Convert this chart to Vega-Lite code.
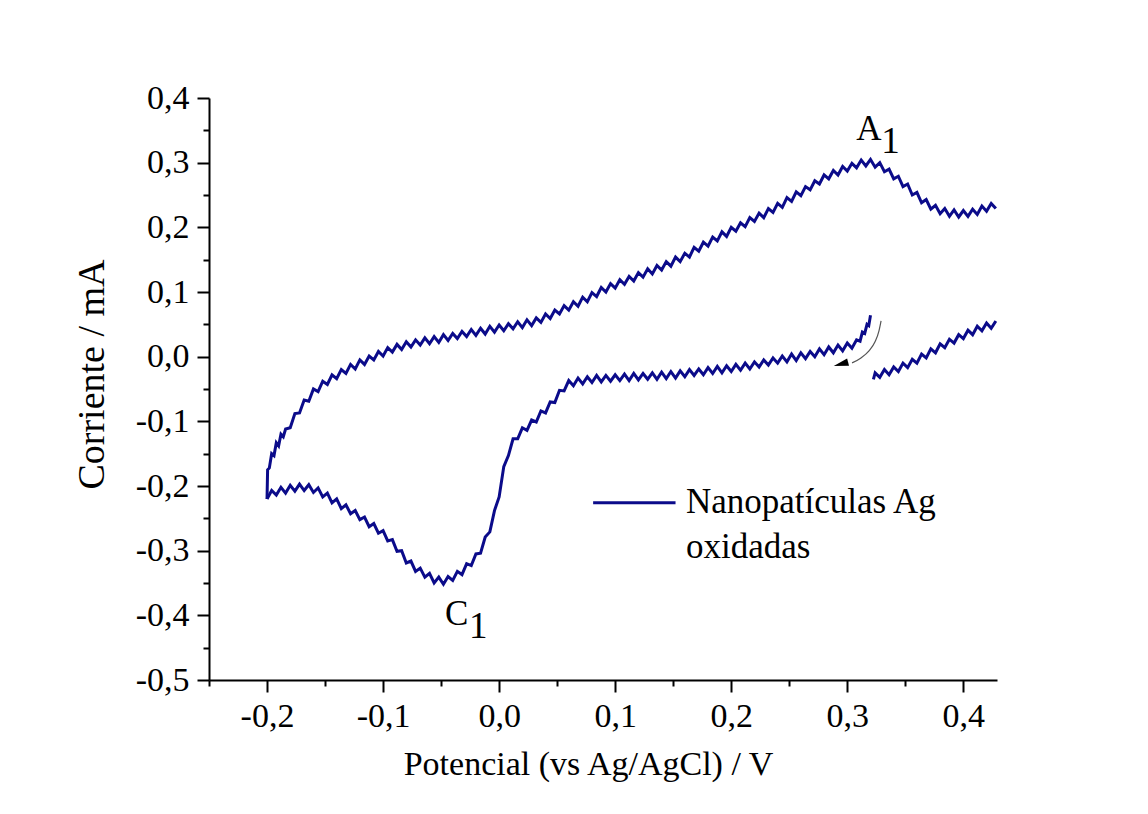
{
  "$schema": "https://vega.github.io/schema/vega-lite/v6.json",
  "width": 788,
  "height": 582,
  "autosize": {"type": "none"},
  "padding": {"left": 209, "top": 98, "right": 151, "bottom": 134},
  "background": "white",
  "config": {"view": {"stroke": null}, "font": "Liberation Serif"},
  "datasets": {
    "cv": [
      {"b":1,"x":0.32,"y":0.064},{"b":1,"x":0.3185,"y":0.048},{"b":1,"x":0.317,"y":0.05},{"b":1,"x":0.315,"y":0.036},{"b":1,"x":0.313,"y":0.038},{"b":1,"x":0.311,"y":0.024},
      {"b":1,"x":0.308,"y":0.026},{"b":1,"x":0.304,"y":0.013},{"b":1,"x":0.3,"y":0.021},{"b":1,"x":0.296,"y":0.009},{"b":1,"x":0.292,"y":0.018},{"b":1,"x":0.288,"y":0.006},
      {"b":1,"x":0.284,"y":0.015},{"b":1,"x":0.28,"y":0.003},{"b":1,"x":0.276,"y":0.012},{"b":1,"x":0.272,"y":0.0},{"b":1,"x":0.268,"y":0.008},{"b":1,"x":0.264,"y":-0.003},
      {"b":1,"x":0.26,"y":0.006},{"b":1,"x":0.256,"y":-0.006},{"b":1,"x":0.252,"y":0.004},{"b":1,"x":0.248,"y":-0.008},{"b":1,"x":0.244,"y":0.001},{"b":1,"x":0.24,"y":-0.01},
      {"b":1,"x":0.236,"y":-0.002},{"b":1,"x":0.232,"y":-0.013},{"b":1,"x":0.228,"y":-0.005},{"b":1,"x":0.224,"y":-0.016},{"b":1,"x":0.22,"y":-0.008},{"b":1,"x":0.216,"y":-0.019},
      {"b":1,"x":0.212,"y":-0.01},{"b":1,"x":0.208,"y":-0.021},{"b":1,"x":0.204,"y":-0.012},{"b":1,"x":0.2,"y":-0.023},{"b":1,"x":0.196,"y":-0.014},{"b":1,"x":0.192,"y":-0.025},
      {"b":1,"x":0.188,"y":-0.015},{"b":1,"x":0.184,"y":-0.026},{"b":1,"x":0.18,"y":-0.017},{"b":1,"x":0.176,"y":-0.028},{"b":1,"x":0.172,"y":-0.019},{"b":1,"x":0.168,"y":-0.029},
      {"b":1,"x":0.164,"y":-0.02},{"b":1,"x":0.16,"y":-0.031},{"b":1,"x":0.156,"y":-0.022},{"b":1,"x":0.152,"y":-0.033},{"b":1,"x":0.148,"y":-0.023},{"b":1,"x":0.144,"y":-0.034},
      {"b":1,"x":0.14,"y":-0.024},{"b":1,"x":0.136,"y":-0.035},{"b":1,"x":0.132,"y":-0.025},{"b":1,"x":0.128,"y":-0.035},{"b":1,"x":0.124,"y":-0.026},{"b":1,"x":0.12,"y":-0.036},
      {"b":1,"x":0.116,"y":-0.026},{"b":1,"x":0.112,"y":-0.037},{"b":1,"x":0.108,"y":-0.027},{"b":1,"x":0.104,"y":-0.037},{"b":1,"x":0.1,"y":-0.028},{"b":1,"x":0.096,"y":-0.038},
      {"b":1,"x":0.092,"y":-0.029},{"b":1,"x":0.088,"y":-0.039},{"b":1,"x":0.084,"y":-0.029},{"b":1,"x":0.08,"y":-0.04},{"b":1,"x":0.076,"y":-0.031},{"b":1,"x":0.072,"y":-0.042},
      {"b":1,"x":0.068,"y":-0.033},{"b":1,"x":0.064,"y":-0.045},{"b":1,"x":0.06,"y":-0.037},{"b":1,"x":0.056,"y":-0.053},{"b":1,"x":0.052,"y":-0.052},{"b":1,"x":0.048,"y":-0.071},
      {"b":1,"x":0.044,"y":-0.07},{"b":1,"x":0.04,"y":-0.087},{"b":1,"x":0.036,"y":-0.084},{"b":1,"x":0.032,"y":-0.101},{"b":1,"x":0.028,"y":-0.098},{"b":1,"x":0.024,"y":-0.114},
      {"b":1,"x":0.02,"y":-0.11},{"b":1,"x":0.016,"y":-0.127},{"b":1,"x":0.012,"y":-0.127},{"b":1,"x":0.008,"y":-0.153},{"b":1,"x":0.004,"y":-0.17},{"b":1,"x":0.0,"y":-0.217},
      {"b":1,"x":-0.004,"y":-0.238},{"b":1,"x":-0.008,"y":-0.271},{"b":1,"x":-0.012,"y":-0.279},{"b":1,"x":-0.016,"y":-0.304},{"b":1,"x":-0.02,"y":-0.305},{"b":1,"x":-0.024,"y":-0.323},
      {"b":1,"x":-0.028,"y":-0.32},{"b":1,"x":-0.032,"y":-0.337},{"b":1,"x":-0.036,"y":-0.332},{"b":1,"x":-0.04,"y":-0.346},{"b":1,"x":-0.044,"y":-0.34},{"b":1,"x":-0.048,"y":-0.352},
      {"b":1,"x":-0.052,"y":-0.341},{"b":1,"x":-0.056,"y":-0.35},{"b":1,"x":-0.06,"y":-0.335},{"b":1,"x":-0.064,"y":-0.341},{"b":1,"x":-0.068,"y":-0.327},{"b":1,"x":-0.072,"y":-0.332},
      {"b":1,"x":-0.076,"y":-0.316},{"b":1,"x":-0.08,"y":-0.319},{"b":1,"x":-0.084,"y":-0.3},{"b":1,"x":-0.088,"y":-0.301},{"b":1,"x":-0.092,"y":-0.283},{"b":1,"x":-0.096,"y":-0.285},
      {"b":1,"x":-0.1,"y":-0.269},{"b":1,"x":-0.104,"y":-0.273},{"b":1,"x":-0.108,"y":-0.258},{"b":1,"x":-0.112,"y":-0.263},{"b":1,"x":-0.116,"y":-0.248},{"b":1,"x":-0.12,"y":-0.252},
      {"b":1,"x":-0.124,"y":-0.238},{"b":1,"x":-0.128,"y":-0.243},{"b":1,"x":-0.132,"y":-0.229},{"b":1,"x":-0.136,"y":-0.235},{"b":1,"x":-0.14,"y":-0.22},{"b":1,"x":-0.144,"y":-0.226},
      {"b":1,"x":-0.148,"y":-0.211},{"b":1,"x":-0.152,"y":-0.217},{"b":1,"x":-0.156,"y":-0.203},{"b":1,"x":-0.16,"y":-0.21},{"b":1,"x":-0.164,"y":-0.198},{"b":1,"x":-0.168,"y":-0.207},
      {"b":1,"x":-0.172,"y":-0.197},{"b":1,"x":-0.176,"y":-0.208},{"b":1,"x":-0.18,"y":-0.199},{"b":1,"x":-0.184,"y":-0.211},{"b":1,"x":-0.188,"y":-0.202},{"b":1,"x":-0.192,"y":-0.214},
      {"b":1,"x":-0.196,"y":-0.207},{"b":1,"x":-0.2,"y":-0.22},
      {"b":2,"x":-0.2,"y":-0.22},{"b":2,"x":-0.1995,"y":-0.175},{"b":2,"x":-0.198,"y":-0.172},{"b":2,"x":-0.196,"y":-0.15},{"b":2,"x":-0.194,"y":-0.153},{"b":2,"x":-0.192,"y":-0.133},
      {"b":2,"x":-0.19,"y":-0.138},{"b":2,"x":-0.188,"y":-0.12},{"b":2,"x":-0.186,"y":-0.124},
      {"b":2,"x":-0.184,"y":-0.112},{"b":2,"x":-0.18,"y":-0.11},{"b":2,"x":-0.176,"y":-0.088},{"b":2,"x":-0.172,"y":-0.087},{"b":2,"x":-0.168,"y":-0.067},{"b":2,"x":-0.164,"y":-0.069},
      {"b":2,"x":-0.16,"y":-0.05},{"b":2,"x":-0.156,"y":-0.054},{"b":2,"x":-0.152,"y":-0.038},{"b":2,"x":-0.148,"y":-0.043},{"b":2,"x":-0.144,"y":-0.028},{"b":2,"x":-0.14,"y":-0.034},
      {"b":2,"x":-0.136,"y":-0.02},{"b":2,"x":-0.132,"y":-0.026},{"b":2,"x":-0.128,"y":-0.012},{"b":2,"x":-0.124,"y":-0.019},{"b":2,"x":-0.12,"y":-0.005},{"b":2,"x":-0.116,"y":-0.012},
      {"b":2,"x":-0.112,"y":0.001},{"b":2,"x":-0.108,"y":-0.005},{"b":2,"x":-0.104,"y":0.008},{"b":2,"x":-0.1,"y":0.001},{"b":2,"x":-0.096,"y":0.014},{"b":2,"x":-0.092,"y":0.007},
      {"b":2,"x":-0.088,"y":0.019},{"b":2,"x":-0.084,"y":0.011},{"b":2,"x":-0.08,"y":0.023},{"b":2,"x":-0.076,"y":0.015},{"b":2,"x":-0.072,"y":0.026},{"b":2,"x":-0.068,"y":0.018},
      {"b":2,"x":-0.064,"y":0.029},{"b":2,"x":-0.06,"y":0.02},{"b":2,"x":-0.056,"y":0.031},{"b":2,"x":-0.052,"y":0.022},{"b":2,"x":-0.048,"y":0.034},{"b":2,"x":-0.044,"y":0.025},
      {"b":2,"x":-0.04,"y":0.036},{"b":2,"x":-0.036,"y":0.028},{"b":2,"x":-0.032,"y":0.039},{"b":2,"x":-0.028,"y":0.031},{"b":2,"x":-0.024,"y":0.042},{"b":2,"x":-0.02,"y":0.033},
      {"b":2,"x":-0.016,"y":0.044},{"b":2,"x":-0.012,"y":0.035},{"b":2,"x":-0.008,"y":0.047},{"b":2,"x":-0.004,"y":0.038},{"b":2,"x":0.0,"y":0.049},{"b":2,"x":0.004,"y":0.04},
      {"b":2,"x":0.008,"y":0.051},{"b":2,"x":0.012,"y":0.043},{"b":2,"x":0.016,"y":0.054},{"b":2,"x":0.02,"y":0.045},{"b":2,"x":0.024,"y":0.057},{"b":2,"x":0.028,"y":0.048},
      {"b":2,"x":0.032,"y":0.06},{"b":2,"x":0.036,"y":0.053},{"b":2,"x":0.04,"y":0.066},{"b":2,"x":0.044,"y":0.059},{"b":2,"x":0.048,"y":0.072},{"b":2,"x":0.052,"y":0.066},
      {"b":2,"x":0.056,"y":0.079},{"b":2,"x":0.06,"y":0.072},{"b":2,"x":0.064,"y":0.085},{"b":2,"x":0.068,"y":0.078},{"b":2,"x":0.072,"y":0.092},{"b":2,"x":0.076,"y":0.085},
      {"b":2,"x":0.08,"y":0.099},{"b":2,"x":0.084,"y":0.093},{"b":2,"x":0.088,"y":0.107},{"b":2,"x":0.092,"y":0.1},{"b":2,"x":0.096,"y":0.113},{"b":2,"x":0.1,"y":0.106},
      {"b":2,"x":0.104,"y":0.119},{"b":2,"x":0.108,"y":0.112},{"b":2,"x":0.112,"y":0.124},{"b":2,"x":0.116,"y":0.117},{"b":2,"x":0.12,"y":0.13},{"b":2,"x":0.124,"y":0.123},
      {"b":2,"x":0.128,"y":0.136},{"b":2,"x":0.132,"y":0.128},{"b":2,"x":0.136,"y":0.141},{"b":2,"x":0.14,"y":0.134},{"b":2,"x":0.144,"y":0.147},{"b":2,"x":0.148,"y":0.14},
      {"b":2,"x":0.152,"y":0.154},{"b":2,"x":0.156,"y":0.147},{"b":2,"x":0.16,"y":0.16},{"b":2,"x":0.164,"y":0.154},{"b":2,"x":0.168,"y":0.169},{"b":2,"x":0.172,"y":0.163},
      {"b":2,"x":0.176,"y":0.177},{"b":2,"x":0.18,"y":0.171},{"b":2,"x":0.184,"y":0.185},{"b":2,"x":0.188,"y":0.179},{"b":2,"x":0.192,"y":0.193},{"b":2,"x":0.196,"y":0.186},
      {"b":2,"x":0.2,"y":0.2},{"b":2,"x":0.204,"y":0.194},{"b":2,"x":0.208,"y":0.207},{"b":2,"x":0.212,"y":0.201},{"b":2,"x":0.216,"y":0.215},{"b":2,"x":0.22,"y":0.209},
      {"b":2,"x":0.224,"y":0.222},{"b":2,"x":0.228,"y":0.215},{"b":2,"x":0.232,"y":0.229},{"b":2,"x":0.236,"y":0.223},{"b":2,"x":0.24,"y":0.237},{"b":2,"x":0.244,"y":0.231},
      {"b":2,"x":0.248,"y":0.246},{"b":2,"x":0.252,"y":0.24},{"b":2,"x":0.256,"y":0.255},{"b":2,"x":0.26,"y":0.249},{"b":2,"x":0.264,"y":0.263},{"b":2,"x":0.268,"y":0.258},
      {"b":2,"x":0.272,"y":0.272},{"b":2,"x":0.276,"y":0.267},{"b":2,"x":0.28,"y":0.281},{"b":2,"x":0.284,"y":0.275},{"b":2,"x":0.288,"y":0.288},{"b":2,"x":0.292,"y":0.281},
      {"b":2,"x":0.296,"y":0.294},{"b":2,"x":0.3,"y":0.287},{"b":2,"x":0.304,"y":0.299},{"b":2,"x":0.308,"y":0.292},{"b":2,"x":0.312,"y":0.304},{"b":2,"x":0.316,"y":0.295},
      {"b":2,"x":0.32,"y":0.305},{"b":2,"x":0.324,"y":0.293},{"b":2,"x":0.328,"y":0.3},{"b":2,"x":0.332,"y":0.286},{"b":2,"x":0.336,"y":0.29},{"b":2,"x":0.34,"y":0.275},
      {"b":2,"x":0.344,"y":0.279},{"b":2,"x":0.348,"y":0.263},{"b":2,"x":0.352,"y":0.267},{"b":2,"x":0.356,"y":0.25},{"b":2,"x":0.36,"y":0.254},{"b":2,"x":0.364,"y":0.238},
      {"b":2,"x":0.368,"y":0.243},{"b":2,"x":0.372,"y":0.228},{"b":2,"x":0.376,"y":0.234},{"b":2,"x":0.38,"y":0.221},{"b":2,"x":0.384,"y":0.229},{"b":2,"x":0.388,"y":0.217},
      {"b":2,"x":0.392,"y":0.227},{"b":2,"x":0.396,"y":0.216},{"b":2,"x":0.4,"y":0.226},{"b":2,"x":0.404,"y":0.217},{"b":2,"x":0.408,"y":0.228},{"b":2,"x":0.412,"y":0.22},
      {"b":2,"x":0.416,"y":0.233},{"b":2,"x":0.42,"y":0.225},{"b":2,"x":0.424,"y":0.237},{"b":2,"x":0.428,"y":0.229},
      {"b":3,"x":0.428,"y":0.055},{"b":3,"x":0.424,"y":0.044},{"b":3,"x":0.42,"y":0.052},{"b":3,"x":0.416,"y":0.04},{"b":3,"x":0.412,"y":0.047},{"b":3,"x":0.408,"y":0.034},
      {"b":3,"x":0.404,"y":0.041},{"b":3,"x":0.4,"y":0.028},{"b":3,"x":0.396,"y":0.034},{"b":3,"x":0.392,"y":0.021},{"b":3,"x":0.388,"y":0.027},{"b":3,"x":0.384,"y":0.014},
      {"b":3,"x":0.38,"y":0.02},{"b":3,"x":0.376,"y":0.006},{"b":3,"x":0.372,"y":0.012},{"b":3,"x":0.368,"y":-0.002},{"b":3,"x":0.364,"y":0.004},{"b":3,"x":0.36,"y":-0.01},
      {"b":3,"x":0.356,"y":-0.004},{"b":3,"x":0.352,"y":-0.017},{"b":3,"x":0.348,"y":-0.01},{"b":3,"x":0.344,"y":-0.023},{"b":3,"x":0.34,"y":-0.016},{"b":3,"x":0.336,"y":-0.028},
      {"b":3,"x":0.332,"y":-0.02},{"b":3,"x":0.328,"y":-0.032},{"b":3,"x":0.324,"y":-0.025},{"b":3,"x":0.3225,"y":-0.035}
    ],
    "arrow": [
      {"x":0.3291,"y":0.0554},{"x":0.3273,"y":0.0399},{"x":0.3239,"y":0.0229},{"x":0.3187,"y":0.009},{"x":0.3118,"y":-0.0019},{"x":0.3041,"y":-0.0096}
    ],
    "head": [{"x":0.2945,"y":-0.0115}],
    "leg": [{"x":0.081,"x2":0.152,"y":-0.226}],
    "letters": [{"x":0.3187,"y":0.3353,"t":"A"},{"x":-0.0365,"y":-0.415,"t":"C"}],
    "subs": [{"x":0.3372,"y":0.3153,"t":"1"},{"x":-0.0179,"y":-0.4351,"t":"1"}],
    "legtext": [{"x":0.161,"y":-0.242,"t":"Nanopatículas Ag"},{"x":0.161,"y":-0.3115,"t":"oxidadas"}]
  },
  "encoding": {
    "x": {
      "field": "x", "type": "quantitative",
      "scale": {"domain": [-0.25, 0.429], "nice": false, "zero": false},
      "axis": {
        "title": "Potencial (vs Ag/AgCl) / V",
        "titleX": 379,
        "values": [-0.25,-0.2,-0.15,-0.1,-0.05,0,0.05,0.1,0.15,0.2,0.25,0.3,0.35,0.4],
        "labelExpr": "abs(datum.value*10 - round(datum.value*10)) < 0.001 ? replace(replace(format(datum.value, '.1f'), '.', ','), '\u2212', '-') : ''",
        "tickSize": {"condition": {"test": "abs(datum.value*10 - round(datum.value*10)) < 0.001", "value": 12}, "value": 6},
        "tickWidth": 2, "tickColor": "black", "domainColor": "black", "domainWidth": 2,
        "labelFont": "Liberation Serif", "labelFontSize": 34, "labelColor": "black", "labelPadding": 7,
        "labelFlush": false, "labelOverlap": false, "labelBound": false,
        "titleFont": "Liberation Serif", "titleFontSize": 34, "titleFontWeight": "normal", "titleColor": "black", "titlePadding": 14,
        "grid": false
      }
    },
    "y": {
      "field": "y", "type": "quantitative",
      "scale": {"domain": [-0.5, 0.4], "nice": false, "zero": false},
      "axis": {
        "title": "Corriente / mA",
        "titleY": 276,
        "values": [-0.5,-0.45,-0.4,-0.35,-0.3,-0.25,-0.2,-0.15,-0.1,-0.05,0,0.05,0.1,0.15,0.2,0.25,0.3,0.35,0.4],
        "labelExpr": "abs(datum.value*10 - round(datum.value*10)) < 0.001 ? replace(replace(format(datum.value, '.1f'), '.', ','), '\u2212', '-') : ''",
        "tickSize": {"condition": {"test": "abs(datum.value*10 - round(datum.value*10)) < 0.001", "value": 12}, "value": 6},
        "tickWidth": 2, "tickColor": "black", "domainColor": "black", "domainWidth": 2,
        "labelFont": "Liberation Serif", "labelFontSize": 34, "labelColor": "black", "labelPadding": 8,
        "labelFlush": false, "labelOverlap": false, "labelBound": false,
        "titleFont": "Liberation Serif", "titleFontSize": 38, "titleFontWeight": "normal", "titleColor": "black", "titlePadding": 24,
        "grid": false
      }
    }
  },
  "layer": [
    {
      "data": {"name": "cv"},
      "mark": {"type": "line", "color": "#0b0b8a", "strokeWidth": 3, "clip": true},
      "encoding": {"detail": {"field": "b", "type": "nominal"}}
    },
    {
      "data": {"name": "arrow"},
      "mark": {"type": "line", "color": "#555555", "strokeWidth": 1.2, "interpolate": "monotone"},
      "encoding": {}
    },
    {
      "data": {"name": "head"},
      "mark": {"type": "point", "shape": "M-1,0L1,-0.5L1,0.5Z", "filled": true, "color": "black", "size": 220, "angle": -15, "opacity": 1},
      "encoding": {}
    },
    {
      "data": {"name": "leg"},
      "mark": {"type": "rule", "color": "#0b0b8a", "strokeWidth": 3},
      "encoding": {"x2": {"field": "x2"}}
    },
    {
      "data": {"name": "letters"},
      "mark": {"type": "text", "font": "Liberation Serif", "fontSize": 35, "align": "center", "baseline": "alphabetic", "color": "black"},
      "encoding": {"text": {"field": "t"}}
    },
    {
      "data": {"name": "subs"},
      "mark": {"type": "text", "font": "Liberation Serif", "fontSize": 37, "align": "center", "baseline": "alphabetic", "color": "black"},
      "encoding": {"text": {"field": "t"}}
    },
    {
      "data": {"name": "legtext"},
      "mark": {"type": "text", "font": "Liberation Serif", "fontSize": 35, "align": "left", "baseline": "alphabetic", "color": "black"},
      "encoding": {"text": {"field": "t"}}
    }
  ]
}
